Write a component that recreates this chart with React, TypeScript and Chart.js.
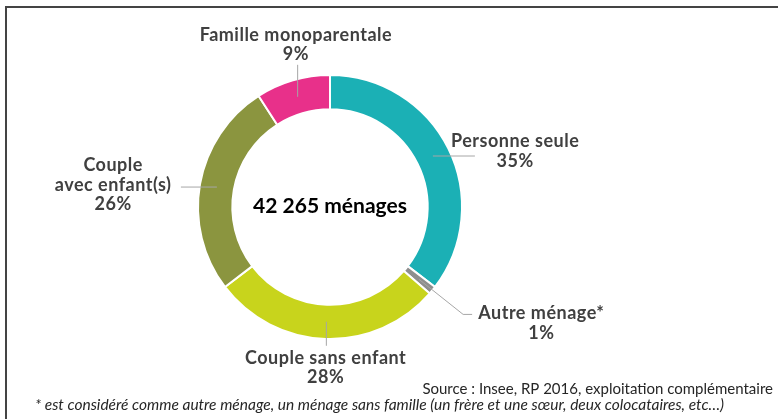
import React, { useEffect, useRef } from 'react';
import { Chart, registerables } from 'chart.js';

Chart.register(...registerables);

// ---- Data ----
const categories = ['Personne seule', 'Autre ménage*', 'Couple sans enfant', 'Couple avec enfant(s)', 'Famille monoparentale'];
const categoryLines = [['Personne seule'], ['Autre ménage*'], ['Couple sans enfant'], ['Couple', 'avec enfant(s)'], ['Famille monoparentale']];
const shares = [35, 1, 28, 26, 9];
const shareLabels = ['35%', '1%', '28%', '26%', '9%'];
const colors = ['#1BB0B5', '#8E8E8E', '#C8D41C', '#8B953F', '#E8308A'];
const centerText = '42 265 ménages';
const sourceText = 'Source : Insee, RP 2016, exploitation complémentaire';
const footnoteText = '* est considéré comme autre ménage, un ménage sans famille (un frère et une sœur, deux colocataires, etc…)';

// ---- Label layout (offsets relative to each arc's mid point) ----
const labelLayout = [
  { path: [[42, 0]], tx: 82, ty: -9 },
  { path: [[44, 35], [53, 35]], tx: 122, ty: 40 },
  { path: [[0, 24]], tx: -1, ty: 42 },
  { path: [[-36, 0]], tx: -104, ty: -16 },
  { path: [[0, -32]], tx: -2, ty: -56 },
];

const FONT = 'Lato, "Open Sans", sans-serif';

function drawText(ctx: any, t: string, x: number, y: number, spacing: number) {
  ctx.letterSpacing = `${spacing}px`;
  let dx = 0;
  if (ctx.textAlign === 'center') dx = spacing / 2;
  else if (ctx.textAlign === 'right') dx = spacing;
  ctx.fillText(t, x + dx, y);
  ctx.letterSpacing = '0px';
}

const labelPlugin = {
  id: 'labelPlugin',
  afterDraw(chart: any) {
    const ctx = chart.ctx;
    const meta = chart.getDatasetMeta(0);
    ctx.save();
    meta.data.forEach((arc: any, i: number) => {
      const p = arc.getProps(['x', 'y', 'startAngle', 'endAngle', 'innerRadius', 'outerRadius'], true);
      const mid = (p.startAngle + p.endAngle) / 2;
      const r = (p.innerRadius + p.outerRadius) / 2;
      const px = p.x + Math.cos(mid) * r;
      const py = p.y + Math.sin(mid) * r;
      const lay = labelLayout[i];
      ctx.beginPath();
      ctx.moveTo(px, py);
      lay.path.forEach(([dx, dy]) => ctx.lineTo(px + dx, py + dy));
      ctx.strokeStyle = '#A6A6A6';
      ctx.lineWidth = 1;
      ctx.stroke();

      ctx.fillStyle = '#404040';
      ctx.font = `bold 18px ${FONT}`;
      ctx.textAlign = 'center';
      ctx.textBaseline = 'alphabetic';
      const lines = [...categoryLines[i], shareLabels[i]];
      lines.forEach((t, k) => {
        drawText(ctx, t, px + lay.tx, py + lay.ty + k * 19.5, 0.5);
      });
    });

    // center text
    const a0 = meta.data[0];
    ctx.fillStyle = '#000';
    ctx.font = `bold 21px ${FONT}`;
    ctx.textAlign = 'center';
    ctx.textBaseline = 'alphabetic';
    ctx.fillText(centerText, a0.x, a0.y + 6);

    // source & footnote
    ctx.fillStyle = '#262626';
    ctx.font = `15px ${FONT}`;
    ctx.textAlign = 'right';
    ctx.fillText(sourceText, 773, 394);
    ctx.font = `italic 15.5px ${FONT}`;
    ctx.textAlign = 'left';
    ctx.fillText(footnoteText, 35, 410);

    // frame
    ctx.strokeStyle = '#444';
    ctx.lineWidth = 2;
    ctx.beginPath();
    ctx.moveTo(6, 430);
    ctx.lineTo(6, 7);
    ctx.lineTo(790, 7);
    ctx.stroke();
    ctx.restore();
  },
};

export default function App() {
  const ref = useRef<HTMLCanvasElement>(null);
  useEffect(() => {
    if (!ref.current) return;
    const chart = new Chart(ref.current, {
      type: 'doughnut',
      data: {
        labels: categories,
        datasets: [
          {
            data: shares,
            backgroundColor: colors,
            borderColor: '#ffffff',
            borderWidth: 2,
            hoverOffset: 0,
          },
        ],
      },
      options: {
        responsive: false,
        animation: false,
        radius: 132,
        cutout: '74%',
        layout: { padding: { left: 0, right: 118, top: 0, bottom: 5 } },
        plugins: {
          legend: { display: false },
          tooltip: { enabled: false },
        },
      } as any,
      plugins: [labelPlugin],
    });
    return () => chart.destroy();
  }, []);
  return (
    <div style={{ position: 'absolute', left: 0, top: 0, width: 778, height: 419, background: '#fff' }}>
      <canvas ref={ref} width={778} height={419} />
    </div>
  );
}
